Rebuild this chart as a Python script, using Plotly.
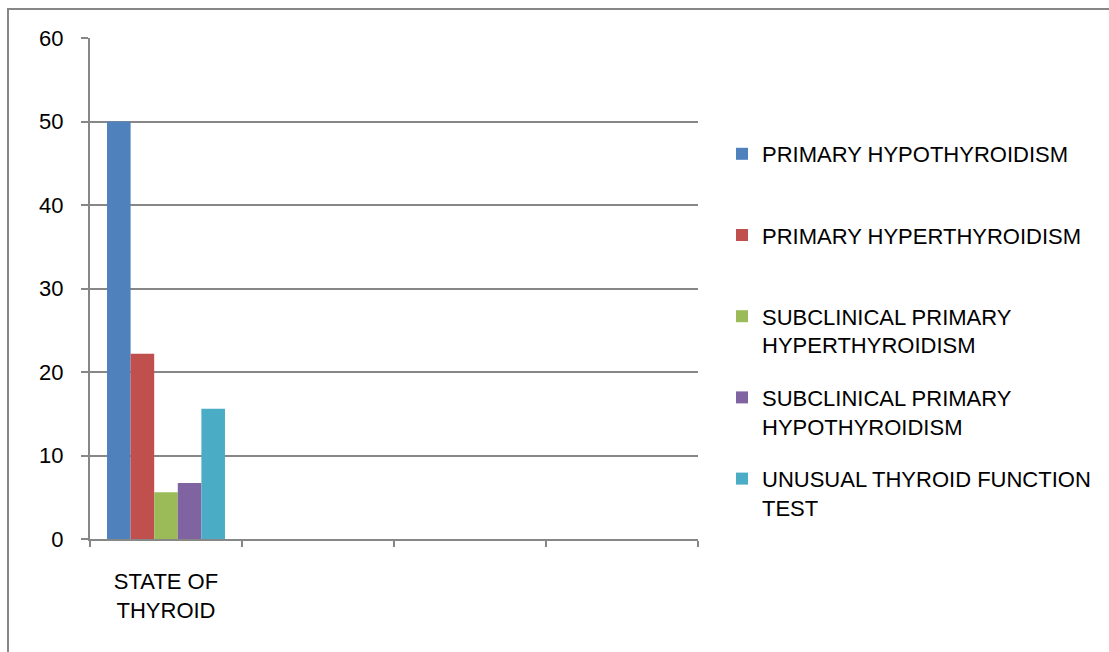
import plotly.graph_objects as go

# Category slots on the x axis (only the first one carries data)
categories = ["STATE OF<br>THYROID", " ", "  ", "   "]

# One bar series per thyroid state, all in the first category
series_names = [
    "PRIMARY HYPOTHYROIDISM",
    "PRIMARY HYPERTHYROIDISM",
    "SUBCLINICAL PRIMARY<br>HYPERTHYROIDISM",
    "SUBCLINICAL PRIMARY<br>HYPOTHYROIDISM",
    "UNUSUAL THYROID FUNCTION<br>TEST",
]
series_values = [50.0, 22.2, 5.6, 6.7, 15.6]
series_colors = ["#4F81BD", "#C0504D", "#9BBB59", "#8064A2", "#4BACC6"]

y_ticks = [0, 10, 20, 30, 40, 50, 60]

FONT = "Liberation Sans, Arial, sans-serif"
FS = 22
GREY = "#878787"
W, H = 1109, 652
L, R, T, B = 90, 411, 38, 113

fig = go.Figure()
for name, val, col in zip(series_names, series_values, series_colors):
    # pad single-line entries to two lines so every legend row is equally tall
    label = name if "<br>" in name else name + "<br>\u00a0"
    fig.add_trace(go.Bar(
        x=[categories[0]], y=[val], name=label,
        marker=dict(color=col, line=dict(width=0)),
        legendgroup=name, hoverinfo="skip",
    ))

pw, ph = W - L - R, H - T - B


def px_x(p):
    return (p - L) / pw


def px_y(p):
    return (H - B - p) / ph


fig.update_layout(
    width=W, height=H,
    margin=dict(l=L, r=R, t=T, b=B, pad=0, autoexpand=False),
    paper_bgcolor="white", plot_bgcolor="white",
    barmode="group", bargap=0.224, bargroupgap=0,
    font=dict(family=FONT, size=FS, color="#000000"),
    showlegend=True,
    legend=dict(
        x=px_x(722), y=px_y(133), xanchor="left", yanchor="top",
        valign="top", tracegroupgap=21, borderwidth=0,
        bgcolor="rgba(0,0,0,0)",
        font=dict(family=FONT, size=FS, color="#000000"),
    ),
    xaxis=dict(
        type="category", categoryorder="array", categoryarray=categories,
        range=[-0.5, 3.5], tickson="boundaries",
        ticks="outside", ticklen=6, tickwidth=1.5, tickcolor=GREY,
        showline=True, linecolor=GREY, linewidth=2,
        showgrid=False, zeroline=False,
        tickfont=dict(family=FONT, size=FS, color="#000000"),
        ticklabelstandoff=22,
    ),
    yaxis=dict(
        range=[0, 60], tickvals=y_ticks, ticktext=[str(v) for v in y_ticks],
        ticks="outside", ticklen=7, tickwidth=1.5, tickcolor=GREY,
        showline=True, linecolor=GREY, linewidth=2,
        showgrid=True, gridcolor=GREY, gridwidth=1.5, zeroline=False,
        tickfont=dict(family=FONT, size=FS, color="#000000"),
        ticklabelstandoff=13,
    ),
    shapes=[
        # outer chart-area frame (left and top edges visible)
        dict(type="rect", xref="paper", yref="paper",
             x0=px_x(8), x1=px_x(1200), y0=px_y(720), y1=px_y(9),
             line=dict(color=GREY, width=2), fillcolor="rgba(0,0,0,0)",
             layer="below"),
    ],
)

fig.write_html("out.html")
